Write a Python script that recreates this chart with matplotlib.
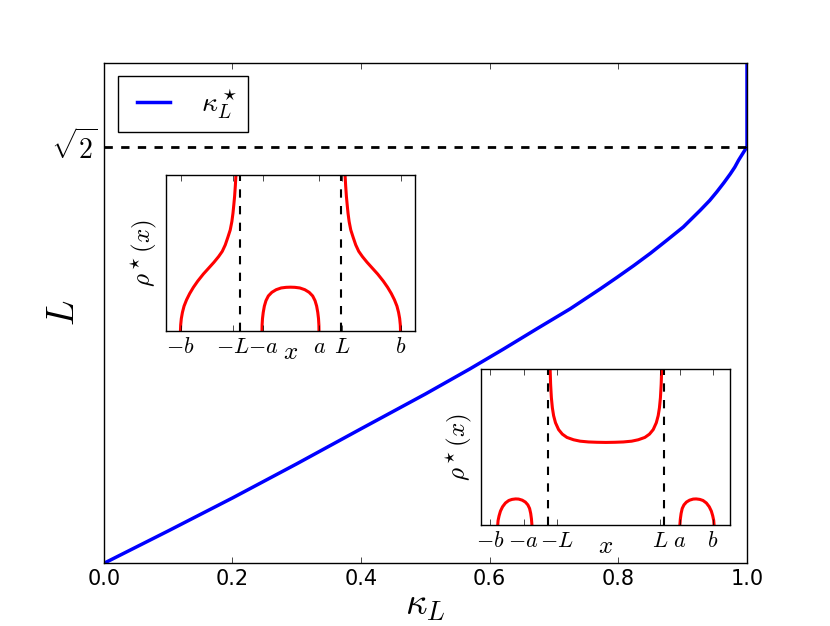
import numpy as np
import matplotlib
matplotlib.use('Agg')
import matplotlib.pyplot as plt

plt.style.use('classic')
plt.rcParams['figure.facecolor'] = 'white'
plt.rcParams['savefig.facecolor'] = 'white'
plt.rcParams['mathtext.fontset'] = 'cm'

# main curve: L against kappa_L
kappa = [0.0, 0.1, 0.2, 0.3, 0.4, 0.5, 0.569, 0.621, 0.673, 0.725, 0.772,
         0.798, 0.824, 0.850, 0.876, 0.901, 0.927, 0.942, 0.953, 0.964, 0.974,
         0.981, 0.987, 0.995, 1.0, 1.0]
L_vals = [0.0, 0.110, 0.222, 0.338, 0.457, 0.575, 0.660, 0.727, 0.796, 0.864,
          0.932, 0.971, 1.011, 1.053, 1.098, 1.142, 1.198, 1.232, 1.261, 1.292,
          1.322, 1.345, 1.369, 1.397, np.sqrt(2), 1.8]

# inset 1: density with three cuts
in1_left_x = [-0.884, -0.882, -0.877, -0.868, -0.855, -0.835, -0.810, -0.780,
              -0.745, -0.700, -0.658, -0.615, -0.578, -0.548, -0.524, -0.503,
              -0.484, -0.471, -0.462, -0.455, -0.449, -0.443, -0.438, -0.433]
in1_left_y = [0.0, 0.04, 0.08, 0.12, 0.16, 0.20, 0.24, 0.28,
              0.32, 0.365, 0.402, 0.44, 0.476, 0.51, 0.551, 0.60,
              0.647, 0.70, 0.754, 0.81, 0.861, 0.93, 1.0, 1.15]
in1_right_x = [0.884, 0.882, 0.877, 0.868, 0.855, 0.835, 0.810, 0.780,
               0.745, 0.700, 0.658, 0.615, 0.578, 0.548, 0.524, 0.503,
               0.484, 0.471, 0.462, 0.455, 0.449, 0.443, 0.438, 0.433]
in1_right_y = [0.0, 0.04, 0.08, 0.12, 0.16, 0.20, 0.24, 0.28,
               0.32, 0.365, 0.402, 0.44, 0.476, 0.51, 0.551, 0.60,
               0.647, 0.70, 0.754, 0.81, 0.861, 0.93, 1.0, 1.15]
in1_mid_x = [-0.229, -0.228, -0.225, -0.219, -0.210, -0.197, -0.178, -0.150,
             -0.115, -0.075, -0.035, 0.0, 0.035, 0.075, 0.115, 0.150, 0.178,
             0.197, 0.210, 0.219, 0.225, 0.228, 0.229]
in1_mid_y = [0.0, 0.04, 0.08, 0.12, 0.16, 0.195, 0.225, 0.248,
             0.265, 0.276, 0.280, 0.281, 0.280, 0.276, 0.265, 0.248, 0.225,
             0.195, 0.16, 0.12, 0.08, 0.04, 0.0]
in1_L = 0.404
in1_ticks = [-0.883, -0.462, -0.221, 0.232, 0.412, 0.886]
in1_ticklabels = [r'$-b$', r'$-L$', r'$-a$', r'$a$', r'$L$', r'$b$']

# inset 2: density with two outer bumps and a central piece
in2_left_x = [-0.869, -0.866, -0.858, -0.847, -0.830, -0.807, -0.780, -0.754,
              -0.725, -0.701, -0.672, -0.647, -0.627, -0.613, -0.604, -0.598, -0.594]
in2_left_y = [0.0, 0.03, 0.06, 0.09, 0.118, 0.142, 0.158, 0.165,
              0.168, 0.167, 0.160, 0.148, 0.130, 0.107, 0.075, 0.04, 0.0]
in2_right_x = [0.594, 0.598, 0.604, 0.613, 0.627, 0.647, 0.672, 0.701,
               0.725, 0.754, 0.780, 0.807, 0.830, 0.847, 0.858, 0.866, 0.869]
in2_right_y = [0.0, 0.04, 0.075, 0.107, 0.130, 0.148, 0.160, 0.167,
               0.168, 0.165, 0.158, 0.142, 0.118, 0.09, 0.06, 0.03, 0.0]
in2_mid_x = [-0.452, -0.448, -0.444, -0.438, -0.430, -0.420, -0.405, -0.380,
             -0.350, -0.313, -0.260, -0.207, -0.140, -0.073, 0.0,
             0.073, 0.140, 0.207, 0.260, 0.313, 0.350, 0.380, 0.405,
             0.420, 0.430, 0.438, 0.444, 0.448, 0.452]
in2_mid_y = [1.2, 1.0, 0.9, 0.815, 0.75, 0.70, 0.655, 0.611,
             0.582, 0.561, 0.546, 0.537, 0.532, 0.530, 0.529,
             0.530, 0.532, 0.537, 0.546, 0.561, 0.582, 0.611, 0.655,
             0.70, 0.75, 0.815, 0.9, 1.0, 1.2]
in2_L = 0.465
in2_ticks = [-0.928, -0.661, -0.393, 0.434, 0.593, 0.861]
in2_ticklabels = [r'$-b$', r'$-a$', r'$-L$', r'$L$', r'$a$', r'$b$']

fig = plt.figure(figsize=(8.3, 6.26), dpi=100)
ax = fig.add_axes([0.125, 0.1, 0.775, 0.8])
ax.plot(kappa, L_vals, color='b', lw=2.5, label=r'$\kappa_L^\star$')
ax.plot([0, 1], [np.sqrt(2), np.sqrt(2)], 'k--', lw=2)
ax.set_xlim(0, 1)
ax.set_ylim(0, 1.7)
ax.set_yticks([np.sqrt(2)])
ax.set_yticklabels([r'$\sqrt{2}$'], fontsize=20)
ax.tick_params(axis='x', labelsize=15)
ax.set_xlabel(r'$\kappa_L$', fontsize=27)
ax.set_ylabel(r'$L$', fontsize=27)
ax.xaxis.set_label_coords(0.5, -0.048)
ax.yaxis.set_label_coords(-0.034, 0.5)
ax.legend(loc='upper left', fontsize=20, handlelength=1.8, borderpad=0.4)


def inset(rect, pieces, Lpos, ticks, labels):
    a = fig.add_axes(rect)
    for xs, ys in pieces:
        a.plot(xs, ys, 'r-', lw=2.2)
    a.axvline(-Lpos, color='k', ls='--', lw=1.5)
    a.axvline(Lpos, color='k', ls='--', lw=1.5)
    a.set_xlim(-1, 1)
    a.set_ylim(0, 1)
    a.set_yticks([])
    a.set_xticks(ticks)
    a.set_xticklabels(labels, fontsize=16)
    a.set_xlabel(r'$x$', fontsize=18, labelpad=-12)
    a.set_ylabel(r'$\rho^\star(x)$', fontsize=18)
    return a


inset([0.2, 0.471, 0.3, 0.25],
      [(in1_left_x, in1_left_y), (in1_right_x, in1_right_y), (in1_mid_x, in1_mid_y)],
      in1_L, in1_ticks, in1_ticklabels)
inset([0.58, 0.161, 0.3, 0.25],
      [(in2_left_x, in2_left_y), (in2_right_x, in2_right_y), (in2_mid_x, in2_mid_y)],
      in2_L, in2_ticks, in2_ticklabels)

fig.savefig('out.png', dpi=100)
